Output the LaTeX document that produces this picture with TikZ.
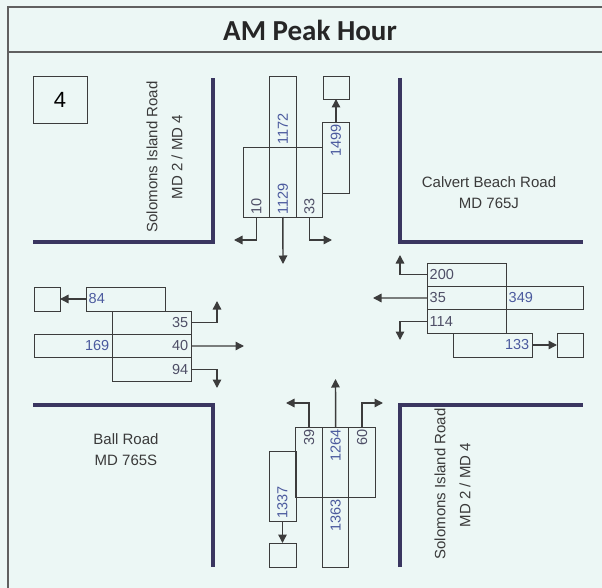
\documentclass[tikz,border=0pt]{standalone}
\usepackage{fontspec}
\setmainfont{Liberation Sans}
\newfontfamily\titlefont{Carlito}
\usepackage{xcolor}
\usepackage{tikz}
\usetikzlibrary{arrows.meta, positioning}

\definecolor{paper}{HTML}{ECF7F5}
\definecolor{boxline}{HTML}{3C3C3C}
\definecolor{roadline}{HTML}{3A3660}
\definecolor{numblue}{HTML}{4B5A9E}
\definecolor{numgray}{HTML}{4E4E66}
\definecolor{lbltext}{HTML}{3A3A3A}

\begin{document}
\begin{tikzpicture}[
    x = 1pt, y = -1pt,
    vlane/.style  = {rectangle, draw=boxline, line width=0.9pt,
                     inner sep=0pt, outer sep=0pt,
                     minimum width=26.5pt, minimum height=70pt},
    hlane/.style  = {rectangle, draw=boxline, line width=0.9pt,
                     inner sep=0pt, outer sep=0pt,
                     minimum width=79pt, minimum height=23.33pt},
    sqbox/.style  = {rectangle, draw=boxline, line width=0.9pt,
                     inner sep=0pt, outer sep=0pt,
                     minimum width=26pt, minimum height=24pt},
    num/.style    = {inner sep=2.5pt, text=numgray,
                     font=\fontsize{14.5}{16}\selectfont},
    bnum/.style   = {num, text=numblue},
    roadlbl/.style = {inner sep=0pt, text=lbltext,
                      font=\fontsize{15}{18}\selectfont},
    road/.style   = {line width=3.5pt, roadline},
    frame/.style  = {line width=1.2pt, gray!75!black},
    mv/.style     = {-{Triangle[length=8.5pt, width=8.5pt]},
                     line width=1.4pt, boxline}
]
\fill[paper] (0,0) rectangle (602,588);
\useasboundingbox (0,0) rectangle (602,588);

%% Frame and title
\draw[frame] (8,588) -- (8,7) -- (602,7);
\draw[frame] (8,52) -- (602,52);
\node[text=black!85, font=\titlefont\bfseries\fontsize{29}{32}\selectfont]
    (title) at (310,30) {AM Peak Hour};
\node[draw=boxline, line width=0.9pt,
      minimum width=54pt, minimum height=47pt,
      font=\fontsize{22}{24}\selectfont] (site) at (60,99.5) {4};

%% Road edges
\draw[road] (33,242) -| (213,78);
\draw[road] (400,78) |- (583,242);
\draw[road] (33,405) -| (213,567);
\draw[road] (400,567) |- (583,405);

%% Road names
\node[roadlbl, rotate=90] (nwName) at (152,157) {Solomons Island Road};
\node[roadlbl, rotate=90] (nwRoute) at (177,157) {MD 2 / MD 4};
\node[roadlbl] (neName) at (489,182) {Calvert Beach Road};
\node[roadlbl, below=10pt of neName] (neRoute) {MD 765J};
\node[roadlbl] (swName) at (126,439) {Ball Road};
\node[roadlbl, below=10pt of swName] (swRoute) {MD 765S};
\node[roadlbl, rotate=90] (seName) at (440,484) {Solomons Island Road};
\node[roadlbl, rotate=90] (seRoute) at (465,485) {MD 2 / MD 4};

%% North approach (southbound)
\node[vlane] (sbR) at (256.33,182) {};
\node[vlane, right=0pt of sbR] (sbT) {};
\node[vlane, right=0pt of sbT] (sbL) {};
\node[vlane, above=0pt of sbT, minimum height=71pt] (sbX) {};
\node[vlane, minimum height=71pt] (sbD) at (336,157.5) {};
\node[sqbox, minimum height=23pt, above=23pt of sbD] (sbSq) {};

\node[num,  rotate=90, anchor=west] (t10)   at (sbR.south) {10};
\node[bnum, rotate=90, anchor=west] (t1129) at (sbT.south) {1129};
\node[num,  rotate=90, anchor=west] (t33)   at (sbL.south) {33};
\node[bnum, rotate=90, anchor=west] (t1172) at (sbX.south) {1172};
\node[bnum, rotate=90, anchor=east] (t1499) at (sbD.north) {1499};

\coordinate (sbREnd) at (234,240);
\coordinate (sbTEnd) at (283,264);
\coordinate (sbLEnd) at (332,240);
\draw[mv] (sbR.south) |- (sbREnd);
\draw[mv] (sbT.south) -- (sbTEnd);
\draw[mv] (sbL.south) |- (sbLEnd);
\draw[mv] (sbD.north) -- (sbSq.south);

%% East approach (westbound)
\node[hlane] (wbR) at (466.5,274.67) {};
\node[hlane, below=0pt of wbR] (wbT) {};
\node[hlane, below=0pt of wbT] (wbL) {};
\node[hlane, right=0pt of wbT, minimum width=77pt] (wbX) {};
\node[hlane, minimum height=24pt] (wbD) at (492.5,345) {};
\node[sqbox, right=25pt of wbD] (wbSq) {};

\node[num,  anchor=west] (t200) at (wbR.west) {200};
\node[num,  anchor=west] (t35w) at (wbT.west) {35};
\node[num,  anchor=west] (t114) at (wbL.west) {114};
\node[bnum, anchor=west] (t349) at (wbX.west) {349};
\node[bnum, anchor=east] (t133) at (wbD.east) {133};

\coordinate (wbREnd) at (400,255);
\coordinate (wbTEnd) at (373,298);
\coordinate (wbLEnd) at (400,340);
\draw[mv] (wbR.west) -| (wbREnd);
\draw[mv] (wbT.west) -- (wbTEnd);
\draw[mv] (wbL.west) -| (wbLEnd);
\draw[mv] (wbD.east) -- (wbSq.west);

%% West approach (eastbound)
\node[hlane] (ebL) at (151.5,322.67) {};
\node[hlane, below=0pt of ebL] (ebT) {};
\node[hlane, below=0pt of ebT] (ebR) {};
\node[hlane, left=0pt of ebT, minimum width=78pt] (ebX) {};
\node[hlane, minimum height=24pt] (ebD) at (125.5,299) {};
\node[sqbox, left=26pt of ebD] (ebSq) {};

\node[bnum, anchor=west] (t84)  at (ebD.west) {84};
\node[num,  anchor=east] (t35e) at (ebL.east) {35};
\node[num,  anchor=east] (t40)  at (ebT.east) {40};
\node[num,  anchor=east] (t94)  at (ebR.east) {94};
\node[bnum, anchor=east] (t169) at (ebX.east) {169};

\coordinate (ebLEnd) at (217,301);
\coordinate (ebTEnd) at (244,346);
\coordinate (ebREnd) at (217,388);
\draw[mv] (ebL.east) -| (ebLEnd);
\draw[mv] (ebT.east) -- (ebTEnd);
\draw[mv] (ebR.east) -| (ebREnd);
\draw[mv] (ebD.west) -- (ebSq.east);

%% South approach (northbound)
\node[vlane] (nbL) at (309.17,462) {};
\node[vlane, right=0pt of nbL] (nbT) {};
\node[vlane, right=0pt of nbT] (nbR) {};
\node[vlane, below=0pt of nbT] (nbX) {};
\node[vlane, minimum width=27pt] (nbD) at (282.5,486) {};
\node[sqbox, minimum width=27pt, below=22pt of nbD] (nbSq) {};

\node[num,  rotate=90, anchor=east] (t39)   at (nbL.north) {39};
\node[bnum, rotate=90, anchor=east] (t1264) at (nbT.north) {1264};
\node[num,  rotate=90, anchor=east] (t60)   at (nbR.north) {60};
\node[bnum, rotate=90, anchor=west] (t1337) at (nbD.south) {1337};
\node[bnum, rotate=90, anchor=east] (t1363) at (nbX.north) {1363};

\coordinate (nbLEnd) at (286,403);
\coordinate (nbTEnd) at (335.5,379);
\coordinate (nbREnd) at (383,403);
\draw[mv] (nbL.north) |- (nbLEnd);
\draw[mv] (nbT.north) -- (nbTEnd);
\draw[mv] (nbR.north) |- (nbREnd);
\draw[mv] (nbD.south) -- (nbSq.north);
\end{tikzpicture}
\end{document}
